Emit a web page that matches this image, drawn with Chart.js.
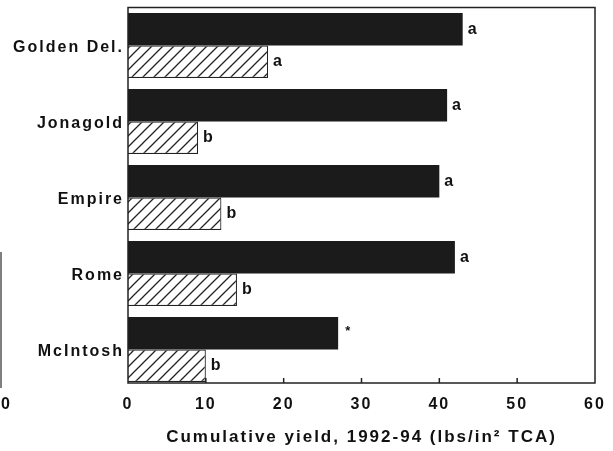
<!DOCTYPE html>
<html>
<head>
<meta charset="utf-8">
<script src="https://cdn.jsdelivr.net/npm/chart.js@4"></script>
<style>
  html, body { margin: 0; padding: 0; background: #fff; }
  #wrap { width: 613px; height: 451px; position: relative; }
</style>
</head>
<body>
<div id="wrap"><canvas id="yieldChart" width="613" height="451"></canvas></div>
<script>
// Cultivars and cumulative yield per trunk area
const cultivars = ['Golden Del.', 'Jonagold', 'Empire', 'Rome', 'McIntosh'];
const solidYield = [43, 41, 40, 42, 27];
const hatchedYield = [18, 9, 12, 14, 10];
const solidLetters = ['a', 'a', 'a', 'a', '*'];
const hatchedLetters = ['a', 'b', 'b', 'b', 'b'];
const xTicks = [0, 10, 20, 30, 40, 50, 60];
const axisTitle = 'Cumulative yield, 1992-94 (lbs/in\u00B2 TCA)';

const FONT = '"Liberation Sans", Arial, sans-serif';

// diagonal hatch fill
function makeHatch() {
    const s = 11;
    const c = document.createElement('canvas');
    c.width = s; c.height = s;
    const g = c.getContext('2d');
    g.fillStyle = '#fff';
    g.fillRect(0, 0, s, s);
    g.strokeStyle = '#222';
    g.lineWidth = 1.3;
    g.beginPath();
    g.moveTo(-2, s + 2); g.lineTo(s + 2, -2);
    g.moveTo(-2, 2); g.lineTo(2, -2);
    g.moveTo(s - 2, s + 2); g.lineTo(s + 2, s - 2);
    g.stroke();
    return g.createPattern(c, 'repeat');
}

const ctx = document.getElementById('yieldChart').getContext('2d');

// frame, inner ticks, letters beside bars, stray marks at far left
const decorations = {
    id: 'decorations',
    beforeDraw(chart) {
        chart.ctx.letterSpacing = '2px';
    },
    afterDatasetsDraw(chart) {
        const c = chart.ctx;
        const a = chart.chartArea;
        const x = chart.scales.x;
        const frameBottom = a.bottom - 4.5;
        c.save();
        c.letterSpacing = '0px';
        c.strokeStyle = '#222';
        c.lineWidth = 1.5;
        c.strokeRect(a.left, a.top, a.right - a.left, frameBottom - a.top);
        c.beginPath();
        xTicks.slice(1, -1).forEach(v => {
            const px = x.getPixelForValue(v);
            c.moveTo(px, frameBottom);
            c.lineTo(px, frameBottom - 5);
        });
        c.stroke();

        c.fillStyle = '#111';
        c.textBaseline = 'middle';
        [solidLetters, hatchedLetters].forEach((letters, di) => {
            chart.getDatasetMeta(di).data.forEach((bar, i) => {
                const star = letters[i] === '*';
                c.font = 'bold ' + (star ? 13 : 16) + 'px ' + FONT;
                c.fillText(letters[i], bar.x + (star ? 7 : 5), bar.y + (star ? -2 : 0));
            });
        });

        c.strokeStyle = '#555';
        c.lineWidth = 1.5;
        c.beginPath();
        c.moveTo(1, 252);
        c.lineTo(1, 388);
        c.stroke();
        c.font = 'bold 16px ' + FONT;
        c.fillStyle = '#111';
        c.fillText('0', 1, 405);
        c.restore();
    }
};

new Chart(ctx, {
    type: 'bar',
    data: {
        labels: cultivars,
        datasets: [
            { label: 'Solid', data: solidYield, backgroundColor: '#1b1b1b', borderWidth: 0 },
            { label: 'Hatched', data: hatchedYield, backgroundColor: makeHatch(), borderColor: '#222', borderWidth: 1.2 }
        ]
    },
    options: {
        indexAxis: 'y',
        responsive: false,
        animation: false,
        layout: { padding: { top: 7.5, right: 18, left: 0, bottom: 0 } },
        datasets: { bar: { categoryPercentage: 0.855, barPercentage: 1.0 } },
        plugins: { legend: { display: false }, tooltip: { enabled: false } },
        scales: {
            x: {
                min: 0, max: 60,
                afterBuildTicks: s => { s.ticks = xTicks.map(v => ({ value: v })); },
                grid: { display: false, drawTicks: false },
                border: { display: false },
                ticks: { color: '#111', padding: 7, font: { family: FONT, size: 16, weight: 'bold' } },
                title: {
                    display: true, text: axisTitle, color: '#111',
                    padding: { top: 4, bottom: 3 },
                    font: { family: FONT, size: 17, weight: 'bold' }
                },
                afterFit: s => {
                    s.height = 63.5;
                    s.paddingLeft = 0;
                    s.paddingRight = 0;
                }
            },
            y: {
                grid: { display: false, drawTicks: false },
                border: { display: false },
                ticks: { color: '#111', padding: 4, labelOffset: 2, font: { family: FONT, size: 16, weight: 'bold' } },
                afterFit: s => {
                    s.width = 128;
                    s.paddingTop = 0;
                    s.paddingBottom = 0;
                }
            }
        }
    },
    plugins: [decorations]
});
</script>
</body>
</html>
